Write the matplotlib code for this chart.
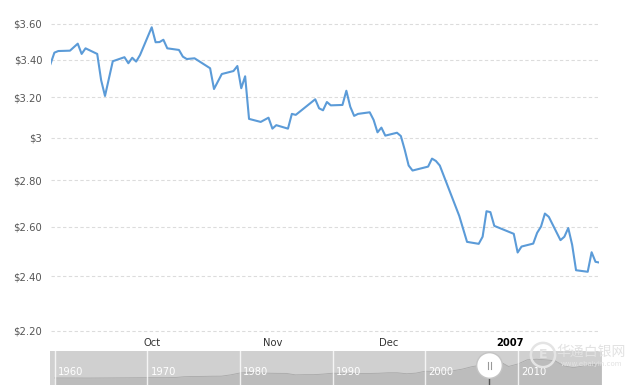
import matplotlib
matplotlib.use('Agg')
import matplotlib.pyplot as plt
import matplotlib.dates as mdates
import matplotlib.transforms as mtransforms
from matplotlib.ticker import FixedLocator, FixedFormatter, NullLocator
import pandas as pd

# daily prices, Sep 2006 - Jan 2007
dates = pd.to_datetime([
    '2006-09-05', '2006-09-06', '2006-09-07', '2006-09-10', '2006-09-12', '2006-09-13',
    '2006-09-14', '2006-09-17', '2006-09-18', '2006-09-19', '2006-09-21', '2006-09-24',
    '2006-09-25', '2006-09-26', '2006-09-27', '2006-09-28',
    '2006-10-01', '2006-10-02', '2006-10-03', '2006-10-04', '2006-10-05', '2006-10-08',
    '2006-10-09', '2006-10-10', '2006-10-12', '2006-10-16', '2006-10-17', '2006-10-19',
    '2006-10-22', '2006-10-23', '2006-10-24', '2006-10-25', '2006-10-26', '2006-10-29',
    '2006-10-31',
    '2006-11-01', '2006-11-02', '2006-11-05', '2006-11-06', '2006-11-07', '2006-11-12',
    '2006-11-13', '2006-11-14', '2006-11-15', '2006-11-16', '2006-11-19', '2006-11-20',
    '2006-11-21', '2006-11-22', '2006-11-23', '2006-11-26', '2006-11-27', '2006-11-28',
    '2006-11-29', '2006-11-30',
    '2006-12-03', '2006-12-04', '2006-12-05', '2006-12-06', '2006-12-07', '2006-12-11',
    '2006-12-12', '2006-12-13', '2006-12-14', '2006-12-19', '2006-12-21', '2006-12-24',
    '2006-12-25', '2006-12-26', '2006-12-27', '2006-12-28',
    '2007-01-02', '2007-01-03', '2007-01-04', '2007-01-07', '2007-01-08', '2007-01-09',
    '2007-01-10', '2007-01-11', '2007-01-14', '2007-01-15', '2007-01-16', '2007-01-17',
    '2007-01-18', '2007-01-21', '2007-01-22', '2007-01-23', '2007-01-24',
])
prices = [
    3.376, 3.438, 3.447, 3.449, 3.488, 3.431, 3.462, 3.431, 3.29, 3.207, 3.391, 3.413,
    3.380, 3.410, 3.389, 3.425,
    3.581, 3.496, 3.497, 3.510, 3.462, 3.453, 3.416, 3.403, 3.407, 3.353, 3.243, 3.322,
    3.338, 3.365, 3.247, 3.310, 3.091, 3.076, 3.097,
    3.043, 3.060, 3.043, 3.116, 3.111, 3.190, 3.144, 3.134, 3.176, 3.159, 3.161, 3.234,
    3.152, 3.106, 3.116, 3.124, 3.086, 3.025, 3.048, 3.009,
    3.023, 3.007, 2.941, 2.868, 2.845, 2.863, 2.900, 2.889, 2.868, 2.645, 2.537, 2.529,
    2.558, 2.665, 2.661, 2.603,
    2.570, 2.494, 2.518, 2.530, 2.574, 2.600, 2.655, 2.641, 2.544, 2.558, 2.594, 2.525,
    2.424, 2.418, 2.495, 2.457, 2.454,
]

y_ticks = [2.2, 2.4, 2.6, 2.8, 3.0, 3.2, 3.4, 3.6]
y_labels = ['$2.20', '$2.40', '$2.60', '$2.80', '$3', '$3.20', '$3.40', '$3.60']
x_ticks = pd.to_datetime(['2006-10-01', '2006-11-01', '2006-12-01', '2007-01-01'])
x_labels = ['Oct', 'Nov', 'Dec', '2007']

# navigator: long-run yearly series
nav_years = list(range(1960, 2020))
nav_values = [
    0.31, 0.31, 0.31, 0.30, 0.30, 0.31, 0.32, 0.33, 0.34, 0.35,
    0.36, 0.36, 0.36, 0.39, 0.53, 0.57, 0.59, 0.62, 0.63, 0.86,
    1.19, 1.31, 1.22, 1.16, 1.13, 1.12, 0.86, 0.90, 0.90, 1.00,
    1.15, 1.14, 1.13, 1.11, 1.11, 1.15, 1.23, 1.23, 1.06, 1.17,
    1.51, 1.46, 1.36, 1.59, 1.88, 2.30, 2.59, 2.80, 3.27, 2.35,
    2.79, 3.53, 3.64, 3.53, 3.37, 2.45, 2.14, 2.42, 2.72, 2.60,
]
nav_decades = [1960, 1970, 1980, 1990, 2000, 2010]

W, H = 640, 385
fig = plt.figure(figsize=(W / 100, H / 100), dpi=100)

ax = fig.add_axes([50.5 / W, (H - 336) / H, (599.4 - 50.5) / W, 324 / H])
ax.plot(dates, prices, color='#5b9bd8', linewidth=1.5)
ax.set_yscale('log')
ax.set_ylim(2.181, 3.670)
ax.set_xlim(dates[0], dates[-1])
ax.yaxis.set_major_locator(FixedLocator(y_ticks))
ax.yaxis.set_major_formatter(FixedFormatter(y_labels))
ax.yaxis.set_minor_locator(NullLocator())
ax.set_xticks(x_ticks)
ax.set_xticklabels(x_labels)
ax.get_xticklabels()[3].set_fontweight('bold')
ax.tick_params(axis='y', length=0, pad=6, labelsize=7.2, labelcolor='#555555')
ax.tick_params(axis='x', length=0, pad=1.5, labelsize=7.2, labelcolor='#333333')
ax.get_xticklabels()[3].set_color('black')
ax.yaxis.grid(True, color='#dcdcdc', linestyle=(0, (3, 2.2)), linewidth=0.8)
for s in ax.spines.values():
    s.set_visible(False)

# navigator strip
nav = fig.add_axes([50 / W, 0, (601.7 - 50) / W, 34 / H])
nav.set_facecolor('#d0d0d0')
nav.fill_between(nav_years, -0.94, nav_values, color='#bcbcbc', linewidth=0)
nav.plot(nav_years, nav_values, color='#a8a8a8', linewidth=0.6)
nav.set_xlim(1959.5, 2019.05)
nav.set_ylim(-0.94, 5.1)
blend = mtransforms.blended_transform_factory(nav.transData, nav.transAxes)
for yr in nav_decades:
    nav.axvline(yr, color='white', linewidth=1, alpha=0.8)
    nav.text(yr + 0.35, 0.38, str(yr), transform=blend, color='white',
             fontsize=7.2, va='center', ha='left')
nav.plot([2006.9, 2006.9], [0, 0.3], transform=blend, color='#555555', linewidth=1)
nav.plot([2006.9], [0.59], transform=blend, marker='o', markersize=18.5,
         markerfacecolor='white', markeredgecolor='#c4c4c4', clip_on=False)
for dx in (-0.17, 0.17):
    nav.plot([2006.9 + dx] * 2, [0.47, 0.69], transform=blend, color='#999999',
             linewidth=0.8)
nav.set_xticks([])
nav.set_yticks([])
for s in nav.spines.values():
    s.set_visible(False)

# watermark
fig.text(543 / W, 1 - 355 / H, 'E', fontsize=9, color='#e2e2e2', ha='center',
         va='center', fontweight='bold',
         bbox=dict(boxstyle='circle,pad=0.45', fc='none', ec='#e4e4e4', lw=1.8))
fig.text(591 / W, 1 - 352 / H, '华通白银网', fontsize=10, color='#e2e2e2',
         ha='center', va='center', family=['Noto Sans CJK SC', 'DejaVu Sans'])
fig.text(591 / W, 1 - 364 / H, 'www.ebaiyin.com', fontsize=5, color='#e2e2e2',
         ha='center', va='center')

fig.savefig('out.png', dpi=100)
